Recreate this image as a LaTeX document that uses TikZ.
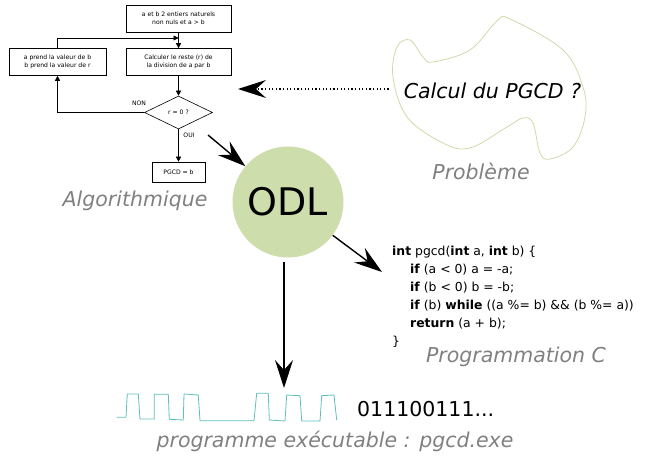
\documentclass[tikz,border=0pt]{standalone}
\usepackage{fontspec}
\setmainfont{DejaVu Sans}
\usetikzlibrary{arrows.meta,shapes.geometric}
\definecolor{odlgreen}{RGB}{205,221,172}
\definecolor{blobline}{RGB}{205,218,170}
\definecolor{wavecyan}{RGB}{95,190,190}
\definecolor{labelgray}{RGB}{128,128,128}
\begin{document}
\begin{tikzpicture}[x=1pt,y=-1pt,
    box/.style = {draw, line width=0.6pt, minimum width=105pt, minimum height=27pt,
                  inner sep=0pt, align=center, font=\fontsize{6.1}{7.6}\selectfont},
    test/.style = {draw, diamond, line width=0.6pt, minimum width=68pt, minimum height=33pt,
                   inner sep=0pt, font=\fontsize{6.1}{7.6}\selectfont},
    flow/.style = {line width=0.6pt, -{Triangle[length=5pt,width=5pt]}},
    tag/.style = {inner sep=0pt, font=\fontsize{6.1}{7.6}\selectfont},
    title/.style = {anchor=base, inner sep=0pt, text=labelgray,
                    font=\fontsize{20.5}{24}\selectfont\itshape},
    bigarrow/.style = {line width=1.4pt, -{Stealth[length=28pt,width=18pt,inset=10pt]}}]
    \useasboundingbox (0,0) rectangle (645,457);

    % flowchart
    \node[box] (start) at (178.5,18.5) {a et b 2 entiers naturels\\non nuls et a > b};
    \node[box] (rest) at (178.5,62) {Calculer le reste (r) de\\la division de a par b};
    \node[box, minimum width=97pt] (swap) at (57.5,62) {a prend la valeur de b\\b prend la valeur de r};
    \node[test] (zero) at (178.5,112.5) {r = 0 ?};
    \node[box, minimum width=53pt, minimum height=20pt] (gcd) at (178.5,172) {PGCD = b};
    \node[tag] (no) at (139,103) {NON};
    \node[tag] (yes) at (189,135) {OUI};
    \coordinate (merge) at (178.5,38);

    \draw[flow] (start) -- (rest);
    \draw[flow] (rest) -- (zero);
    \draw[flow] (zero) -- (gcd);
    \draw[flow] (zero.west) -| (swap.south);
    \draw[flow] (swap.north) |- (merge);

    % problem
    \draw[blobline, line width=0.8pt] plot[smooth cycle, tension=0.6] coordinates
        {(410,40) (423,57) (433,62) (470,50) (497,21) (510,19) (563,50) (583,87)
         (585,117) (573,147) (550,159) (540,153) (533,123) (523,118) (507,127)
         (470,148) (443,143) (407,117) (393,77) (397,47)};
    \node[anchor=base, inner sep=0pt, font=\fontsize{20.5}{24}\selectfont\itshape]
        (pb) at (492.5,99) {Calcul du PGCD ?};

    % ODL
    \node[circle, fill=odlgreen, minimum size=111pt, inner sep=0pt,
          font=\fontsize{38}{40}\selectfont] (odl) at (288,202) {ODL};

    % C code
    \node[anchor=north west, inner sep=0pt, align=left,
          font=\fontsize{12.4}{18}\selectfont] (code) at (392,246)
        {\textbf{int} pgcd(\textbf{int} a, \textbf{int} b) \{\\
         \hspace*{18pt}\textbf{if} (a < 0) a = -a;\\
         \hspace*{18pt}\textbf{if} (b < 0) b = -b;\\
         \hspace*{18pt}\textbf{if} (b) \textbf{while} ((a \%= b) \&\& (b \%= a))\\
         \hspace*{18pt}\textbf{return} (a + b);\\
         \}};

    % executable
    \draw[wavecyan, line width=0.8pt] (116.7,417.3) -- (126,417.3) -- (127.3,394)
        -- (138.3,394) -- (140,419) -- (154.3,419) -- (154.3,394.3) -- (168.3,394.3)
        -- (169.3,419.3) -- (183.3,420) -- (184,394) -- (198.3,395) -- (200,420.7)
        -- (254,420.7) -- (256.7,393.3) -- (268.3,393.3) -- (269.3,420) -- (285,421)
        -- (286.7,395) -- (300,395.7) -- (301.7,421) -- (320,421) -- (321.7,395.7)
        -- (334,395) -- (336.7,420);
    \node[anchor=base west, inner sep=0pt, font=\fontsize{20.5}{24}\selectfont]
        (bits) at (357,416) {011100111...};

    % titles
    \node[title] (algo) at (135,207) {Algorithmique};
    \node[title] (pbtitle) at (481,180) {Problème};
    \node[title] (ctitle) at (516,362) {Programmation C};
    \node[title] (exetitle) at (335,447) {programme exécutable : pgcd.exe};

    % links
    \coordinate (algo-out) at (208,135);
    \coordinate (code-in) at (382,272);
    \coordinate (exe-in) at (284,388);
    \coordinate (flow-in) at (238,89);
    \draw[bigarrow] (algo-out) -- (odl);
    \draw[bigarrow] (odl) -- (code-in);
    \draw[bigarrow, shorten <=4pt] (odl.south -| exe-in) -- (exe-in);
    \draw[line width=1.2pt, dash pattern=on 1.2pt off 2.4pt,
          -{Stealth[length=28pt,width=18pt,inset=10pt]}, shorten <=15pt]
        (pb.west |- flow-in) -- (flow-in);
\end{tikzpicture}
\end{document}
